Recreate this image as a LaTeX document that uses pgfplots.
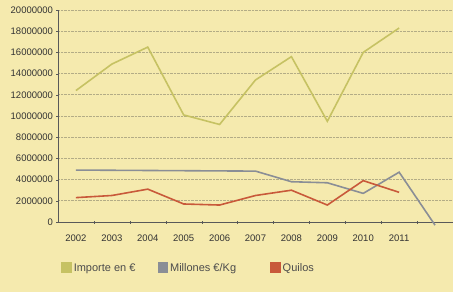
\documentclass[border=0pt]{standalone}
\usepackage{fontspec}
\setmainfont{Liberation Sans}
\usepackage{pgfplots}
\pgfplotsset{compat=1.18}
\definecolor{bgc}{HTML}{F5EAAE}
\definecolor{impc}{HTML}{C6C263}
\definecolor{milc}{HTML}{8A8E96}
\definecolor{quic}{HTML}{C8593A}
\definecolor{gridc}{HTML}{B3AC86}
\begin{document}
\begin{tikzpicture}
\fill[bgc] (-58bp,-70bp) rectangle (395bp,222bp);
\useasboundingbox (-58bp,-70bp) rectangle (395bp,222bp);
\begin{axis}[
  at={(0,0)}, anchor=south west,
  scale only axis, width=395bp, height=212bp,
  xmin=-0.5, xmax=10.5, ymin=0, ymax=20000000,
  clip=false,
  axis x line=bottom, axis y line=left,
  axis line style={draw=gray!70!black, -},
  xtick={0,...,9},
  xticklabels={2002,2003,2004,2005,2006,2007,2008,2009,2010,2011},
  xticklabel style={yshift=-8bp},
  major x tick style={draw=none},
  minor xtick={0.5,1.5,...,10.5},
  minor x tick style={draw=gray!70!black},
  minor tick length=3bp,
  ytick={0,2000000,...,20000000},
  scaled y ticks=false,
  yticklabel style={/pgf/number format/fixed,/pgf/number format/1000 sep={}},
  /pgf/number format/assume math mode=true,
  ticklabel style={font=\fontsize{9.5bp}{11bp}\selectfont, text=black!80},
  ytick style={draw=gray!70!black},
  major tick length=3bp,
  ymajorgrids,
  grid style={gridc, densely dotted, line width=0.8pt},
  legend style={at={(0.0,-0.217)}, anchor=west, draw=none, fill=none,
    font=\fontsize{11bp}{13bp}\selectfont, text=black!70,
    legend columns=3, /tikz/every even column/.append style={column sep=20bp}},
  legend image code/.code={\fill[#1] (0bp,-4bp) rectangle (9bp,5bp);},
]
\addplot[impc, line width=1.6pt] coordinates {
 (0,12400000) (1,14900000) (2,16500000) (3,10100000) (4,9200000)
 (5,13400000) (6,15600000) (7,9500000) (8,16000000) (9,18300000)};
\addlegendentry{Importe en €}
\addplot[milc, line width=1.6pt] coordinates {
 (0,4900000) (1,4880000) (2,4860000) (3,4840000) (4,4820000)
 (5,4800000) (6,3800000) (7,3700000) (8,2700000) (9,4700000) (10,-300000)};
\addlegendentry{Millones €/Kg\rule{12bp}{0pt}}
\addplot[quic, line width=1.6pt] coordinates {
 (0,2300000) (1,2500000) (2,3100000) (3,1700000) (4,1600000)
 (5,2500000) (6,3000000) (7,1600000) (8,3900000) (9,2800000)};
\addlegendentry{Quilos}
\end{axis}
\end{tikzpicture}
\end{document}
